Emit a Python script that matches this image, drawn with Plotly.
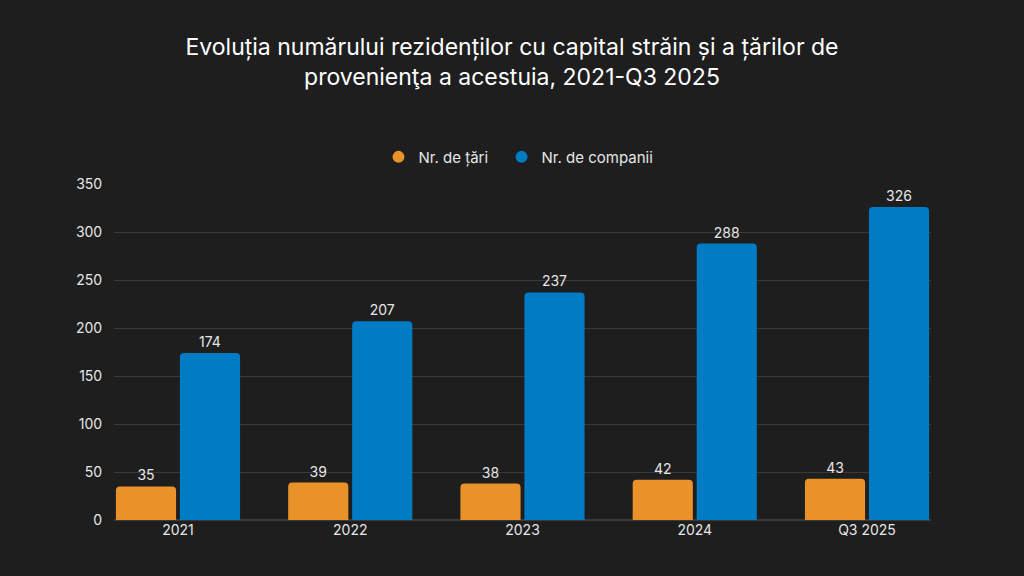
import plotly.graph_objects as go

# Data
years = ['2021', '2022', '2023', '2024', 'Q3 2025']
nr_tari = [35, 39, 38, 42, 43]
nr_companii = [174, 207, 237, 288, 326]
y_ticks = [0, 50, 100, 150, 200, 250, 300, 350]

orange = '#E9922A'
blue = '#007BC4'
bg = '#1E1E1E'
font_family = 'Inter, Roboto, sans-serif'

fig = go.Figure()

# Bars (legend drawn with circle markers below)
for name, values, color in [('Nr. de țări', nr_tari, orange),
                            ('Nr. de companii', nr_companii, blue)]:
    fig.add_trace(go.Bar(
        x=years,
        y=values,
        name=name,
        marker=dict(color=color, cornerradius=4, line=dict(width=0)),
        text=values,
        textposition='outside',
        textfont=dict(color='#E6E6E6', size=14),
        cliponaxis=False,
        showlegend=False,
    ))
    fig.add_trace(go.Scatter(
        x=[None], y=[None],
        mode='markers',
        name=name + '\u00a0\u00a0',
        marker=dict(color=color, size=16, symbol='circle'),
    ))

gap = 0.257
fig.update_layout(
    width=1024,
    height=576,
    paper_bgcolor=bg,
    plot_bgcolor=bg,
    font=dict(family=font_family, color='#E6E6E6', size=14),
    title=dict(
        text='Evoluția numărului rezidenților cu capital străin și a țărilor de<br>provenienţa a acestuia, 2021-Q3 2025',
        x=0.5,
        xanchor='center',
        y=0.904,
        yanchor='top',
        font=dict(size=23, color='#FFFFFF', family=font_family),
    ),
    barmode='group',
    bargap=gap,
    bargroupgap=0.06,
    margin=dict(l=114, r=93, t=184, b=56),
    legend=dict(
        orientation='h',
        x=0.5,
        xanchor='center',
        y=1.08,
        yanchor='middle',
        font=dict(size=15, color='#E6E6E6'),
        itemsizing='constant',
    ),
    xaxis=dict(
        range=[-0.5 + gap / 2, len(years) - 0.5 - gap / 2],
        showgrid=False,
        showline=False,
        zeroline=False,
        ticks='',
        tickfont=dict(size=14, color='#E6E6E6'),
    ),
    yaxis=dict(
        range=[0, 350],
        tickvals=y_ticks,
        gridcolor='#3A3A3A',
        gridwidth=1,
        zeroline=True,
        zerolinecolor='#3A3A3A',
        showline=False,
        ticks='outside',
        ticklen=8,
        tickcolor=bg,
        tickfont=dict(size=14, color='#E6E6E6'),
    ),
)

# Drop the default page margin so the chart fills the window
fig.write_html('out.html', config={'displayModeBar': False},
               post_script="document.body.style.margin='0';")
